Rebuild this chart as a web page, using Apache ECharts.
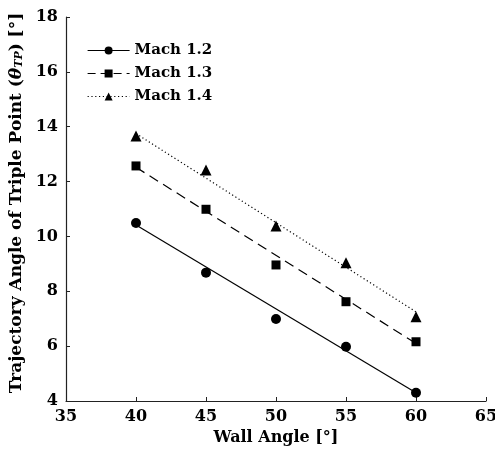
<!DOCTYPE html>
<html>
<head>
<meta charset="utf-8">
<script src="https://cdn.jsdelivr.net/npm/echarts@6/dist/echarts.min.js"></script>
<style>
  html, body { margin: 0; padding: 0; background: #fff; }
  #chart { width: 495px; height: 454px; }
</style>
</head>
<body>
<div id="chart"></div>
<script>
const wallAngles = [40, 45, 50, 55, 60];
const mach12 = [10.49, 8.68, 6.99, 5.98, 4.30];
const mach13 = [12.57, 10.99, 8.96, 7.62, 6.16];
const mach14 = [13.66, 12.42, 10.38, 9.04, 7.07];

// trend line end points
const fitX = [40, 60];
const fit12 = [10.42, 4.3];
const fit13 = [12.52, 6.1];
const fit14 = [13.75, 7.25];

const names = ['Mach 1.2', 'Mach 1.3', 'Mach 1.4'];
const font = 'DejaVu Serif';

const pairs = (xs, ys) => xs.map((x, i) => [x, ys[i]]);

const chart = echarts.init(document.getElementById('chart'));

const markerSeries = (name, ys, symbol, size) => ({
    name: name,
    type: 'line',
    data: pairs(wallAngles, ys),
    symbol: symbol,
    symbolSize: size,
    itemStyle: { color: '#000' },
    lineStyle: { opacity: 0 },
    z: 3
});

const fitSeries = (name, ys, type) => ({
    name: name,
    type: 'line',
    data: pairs(fitX, ys),
    symbol: 'none',
    lineStyle: { color: '#000', width: 1.2, type: type },
    silent: true,
    z: 2
});

const options = {
    animation: false,
    grid: { left: 66, right: 9, top: 17, bottom: 53, outerBoundsMode: 'none' },
    legend: {
        orient: 'vertical',
        left: 82,
        top: 38,
        itemWidth: 42,
        itemHeight: 10,
        itemGap: 8,
        textStyle: { fontFamily: font, fontWeight: 'bold', fontSize: 15, color: '#000' },
        data: [
            { name: names[0], lineStyle: { opacity: 1, width: 1.2, type: 'solid', color: '#000' } },
            { name: names[1], lineStyle: { opacity: 1, width: 1.2, type: [8, 5], color: '#000' } },
            { name: names[2], lineStyle: { opacity: 1, width: 1.2, type: [1.2, 2.6], color: '#000' } }
        ]
    },
    xAxis: {
        type: 'value',
        min: 35,
        max: 65,
        interval: 5,
        name: 'Wall Angle [°]',
        nameLocation: 'middle',
        nameGap: 28,
        nameTextStyle: { fontFamily: font, fontWeight: 'bold', fontSize: 16, color: '#000' },
        axisLine: { lineStyle: { color: '#222', width: 1.2 } },
        axisTick: { inside: true, length: 4, lineStyle: { color: '#222' } },
        axisLabel: { fontFamily: font, fontWeight: 'bold', fontSize: 16, color: '#000', margin: 8 },
        splitLine: { show: false }
    },
    yAxis: {
        type: 'value',
        min: 4,
        max: 18,
        interval: 2,
        name: '{a|Trajectory Angle of Triple Point (}{i|θ}{s|TP}{a|) [°]}',
        nameLocation: 'middle',
        nameGap: 36,
        nameTextStyle: {
            padding: [0, 0, 0, 12],
            rich: {
                a: { fontFamily: font, fontWeight: 'bold', fontSize: 17, color: '#000' },
                i: { fontFamily: font, fontWeight: 'bold', fontStyle: 'italic', fontSize: 17, color: '#000' },
                s: { fontFamily: font, fontWeight: 'bold', fontStyle: 'italic', fontSize: 11, color: '#000', verticalAlign: 'bottom', padding: [6, 0, 0, 0] }
            }
        },
        axisLine: { show: true, lineStyle: { color: '#222', width: 1.2 } },
        axisTick: { show: true, inside: true, length: 4, lineStyle: { color: '#222' } },
        axisLabel: { fontFamily: font, fontWeight: 'bold', fontSize: 16, color: '#000', margin: 8 },
        splitLine: { show: false }
    },
    series: [
        markerSeries(names[0], mach12, 'circle', 10),
        markerSeries(names[1], mach13, 'rect', 9),
        markerSeries(names[2], mach14, 'triangle', 11),
        fitSeries('fit 1.2', fit12, 'solid'),
        fitSeries('fit 1.3', fit13, [10, 6]),
        fitSeries('fit 1.4', fit14, [1.2, 2.6])
    ]
};

chart.setOption(options);

new ResizeObserver(() => chart.resize()).observe(document.getElementById('chart'));
</script>
</body>
</html>
